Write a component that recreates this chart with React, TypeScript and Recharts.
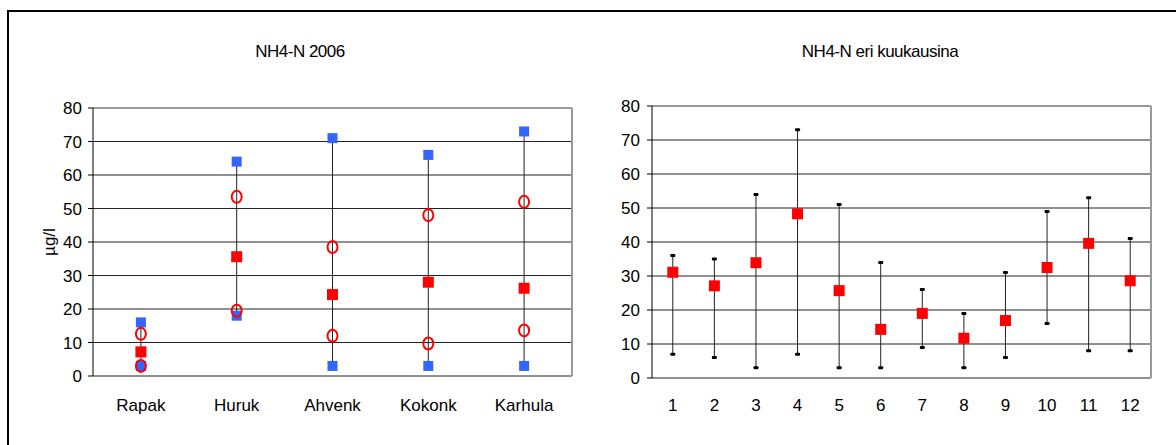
import React from 'react';
import { ComposedChart, Line, XAxis, YAxis, CartesianGrid, ErrorBar, ReferenceLine } from 'recharts';

// ---- Left chart: NH4-N 2006 by station ----
const stations = ['Rapak', 'Huruk', 'Ahvenk', 'Kokonk', 'Karhula'];
const stationMax = [16, 64, 71, 66, 73];
const stationMin = [3, 18, 3, 3, 3];
const stationP90 = [12.6, 53.5, 38.5, 48, 52];
const stationP10 = [3, 19.5, 12, 9.7, 13.6];
const stationMean = [7.2, 35.6, 24.3, 28, 26.2];

// ---- Right chart: NH4-N by month ----
const months = ['1', '2', '3', '4', '5', '6', '7', '8', '9', '10', '11', '12'];
const monthMean = [31.1, 27.1, 33.9, 48.3, 25.7, 14.3, 19, 11.7, 16.9, 32.5, 39.6, 28.6];
const monthMax = [36, 35, 54, 73, 51, 34, 26, 19, 31, 49, 53, 41];
const monthMin = [7, 6, 3, 7, 3, 3, 9, 3, 6, 16, 8, 8];

const yTicks = [0, 10, 20, 30, 40, 50, 60, 70, 80];

const FONT = '"Liberation Sans", Arial, sans-serif';

const stationRows = stations.map((name, i) => ({
  name,
  pos: i + 0.5,
  max: stationMax[i],
  min: stationMin[i],
  p90: stationP90[i],
  p10: stationP10[i],
  mean: stationMean[i],
  err: [stationMean[i] - stationMin[i], stationMax[i] - stationMean[i]],
}));

const monthRows = months.map((name, i) => ({
  name,
  pos: i + 0.5,
  max: monthMax[i],
  min: monthMin[i],
  mean: monthMean[i],
  err: [monthMean[i] - monthMin[i], monthMax[i] - monthMean[i]],
}));

const boundaryTicks = (n: number) => Array.from({ length: n + 1 }, (_, i) => i);
const centerTicks = (n: number) => Array.from({ length: n }, (_, i) => i + 0.5);

const blueSquare = (p: any) =>
  p.cx == null || p.cy == null ? (
    <g key={`bs${p.index}`} />
  ) : (
    <rect key={`bs${p.index}`} x={p.cx - 5} y={p.cy - 5} width={10} height={10} fill="#3366FF" />
  );

const redSquare = (p: any) =>
  p.cx == null || p.cy == null ? (
    <g key={`rs${p.index}`} />
  ) : (
    <rect key={`rs${p.index}`} x={p.cx - 5.5} y={p.cy - 5.5} width={11} height={11} fill="#FF0000" />
  );

const redRing = (p: any) =>
  p.cx == null || p.cy == null ? (
    <g key={`rr${p.index}`} />
  ) : (
    <ellipse key={`rr${p.index}`} cx={p.cx} cy={p.cy} rx={5} ry={6} fill="none" stroke="#FF0000" strokeWidth={2} />
  );

const capMark = (p: any) =>
  p.cx == null || p.cy == null ? (
    <g key={`cm${p.index}`} />
  ) : (
    <rect key={`cm${p.index}`} x={p.cx - 2.5} y={p.cy - 1.5} width={5} height={3} rx={1} fill="#000" />
  );

const tickFont = { fontSize: 17, fill: '#000', fontFamily: FONT };

const hidden = {
  isAnimationActive: false,
  activeDot: false as const,
  legendType: 'none' as const,
  stroke: 'none',
};

export default function App() {
  return (
    <div
      style={{
        position: 'fixed',
        left: 0,
        top: 0,
        width: 1176,
        height: 445,
        overflow: 'hidden',
        background: '#fff',
        fontFamily: FONT,
      }}
    >
      <div
        style={{
          position: 'absolute',
          left: 7,
          top: 10,
          width: 1300,
          height: 600,
          border: '2px solid #000',
        }}
      />
      <div
        style={{
          position: 'absolute',
          left: 0,
          top: 42,
          width: 600,
          textAlign: 'center',
          fontSize: 17,
          lineHeight: '20px',
          letterSpacing: '-0.5px',
          color: '#000',
        }}
      >
        NH4-N 2006
      </div>
      <div
        style={{
          position: 'absolute',
          left: 580,
          top: 42,
          width: 600,
          textAlign: 'center',
          fontSize: 17,
          lineHeight: '20px',
          letterSpacing: '-0.5px',
          color: '#000',
        }}
      >
        NH4-N eri kuukausina
      </div>

      {/* Left chart */}
      <div style={{ position: 'absolute', left: 0, top: 0 }}>
        <ComposedChart
          width={600}
          height={445}
          data={stationRows}
          margin={{ top: 108, right: 28, bottom: 39, left: 0 }}
        >
          <CartesianGrid horizontal vertical={false} stroke="#222" strokeWidth={1} />
          <XAxis
            xAxisId="grid"
            type="number"
            dataKey="pos"
            domain={[0, stations.length]}
            ticks={boundaryTicks(stations.length)}
            tickFormatter={() => ''}
            height={0}
            tickSize={5}
            axisLine={{ stroke: '#000', strokeWidth: 1.5 }}
            tickLine={{ stroke: '#000' }}
            allowDataOverflow
          />
          <XAxis
            xAxisId="lab"
            type="number"
            dataKey="pos"
            domain={[0, stations.length]}
            ticks={centerTicks(stations.length)}
            tickFormatter={(v: number) => stations[Math.floor(v)] ?? ''}
            height={30}
            tickSize={6}
            tickMargin={17}
            axisLine={false}
            tickLine={false}
            tick={tickFont}
            interval={0}
            allowDataOverflow
          />
          <YAxis
            type="number"
            domain={[0, 80]}
            ticks={yTicks}
            width={93}
            tickSize={5}
            tickMargin={6}
            axisLine={{ stroke: '#000' }}
            tickLine={{ stroke: '#000' }}
            tick={tickFont}
            interval={0}
            label={{
              value: 'µg/l',
              angle: -90,
              position: 'center',
              dx: 2,
              style: { fontSize: 17, fill: '#000', fontFamily: FONT },
            }}
          />
          <ReferenceLine y={80} stroke="#999" strokeWidth={2} />
          <ReferenceLine xAxisId="grid" x={stations.length} stroke="#999" strokeWidth={2} />
          <Line xAxisId="grid" dataKey="mean" dot={false} {...hidden}>
            <ErrorBar dataKey="err" width={0} stroke="#222" strokeWidth={1} direction="y" />
          </Line>
          <Line xAxisId="lab" dataKey="max" dot={blueSquare} {...hidden} />
          <Line xAxisId="lab" dataKey="min" dot={blueSquare} {...hidden} />
          <Line xAxisId="lab" dataKey="mean" dot={redSquare} {...hidden} />
          <Line xAxisId="lab" dataKey="p90" dot={redRing} {...hidden} />
          <Line xAxisId="lab" dataKey="p10" dot={redRing} {...hidden} />
        </ComposedChart>
      </div>

      {/* Right chart */}
      <div style={{ position: 'absolute', left: 580, top: 0 }}>
        <ComposedChart
          width={596}
          height={445}
          data={monthRows}
          margin={{ top: 106, right: 25, bottom: 37, left: 0 }}
        >
          <CartesianGrid horizontal vertical={false} stroke="#222" strokeWidth={1} />
          <XAxis
            xAxisId="grid"
            type="number"
            dataKey="pos"
            domain={[0, months.length]}
            ticks={boundaryTicks(months.length)}
            tickFormatter={() => ''}
            height={0}
            tickSize={5}
            axisLine={{ stroke: '#000', strokeWidth: 1.5 }}
            tickLine={{ stroke: '#000' }}
            allowDataOverflow
          />
          <XAxis
            xAxisId="lab"
            type="number"
            dataKey="pos"
            domain={[0, months.length]}
            ticks={centerTicks(months.length)}
            tickFormatter={(v: number) => months[Math.floor(v)] ?? ''}
            height={30}
            tickSize={6}
            tickMargin={15}
            axisLine={false}
            tickLine={false}
            tick={tickFont}
            interval={0}
            allowDataOverflow
          />
          <YAxis
            type="number"
            domain={[0, 80]}
            ticks={yTicks}
            width={72}
            tickSize={5}
            tickMargin={7}
            axisLine={{ stroke: '#000' }}
            tickLine={{ stroke: '#000' }}
            tick={tickFont}
            interval={0}
          />
          <ReferenceLine y={80} stroke="#999" strokeWidth={2} />
          <ReferenceLine xAxisId="grid" x={months.length} stroke="#999" strokeWidth={2} />
          <Line xAxisId="grid" dataKey="mean" dot={false} {...hidden}>
            <ErrorBar dataKey="err" width={0} stroke="#222" strokeWidth={1} direction="y" />
          </Line>
          <Line xAxisId="lab" dataKey="max" dot={capMark} {...hidden} />
          <Line xAxisId="lab" dataKey="min" dot={capMark} {...hidden} />
          <Line xAxisId="lab" dataKey="mean" dot={redSquare} {...hidden} />
        </ComposedChart>
      </div>
    </div>
  );
}
